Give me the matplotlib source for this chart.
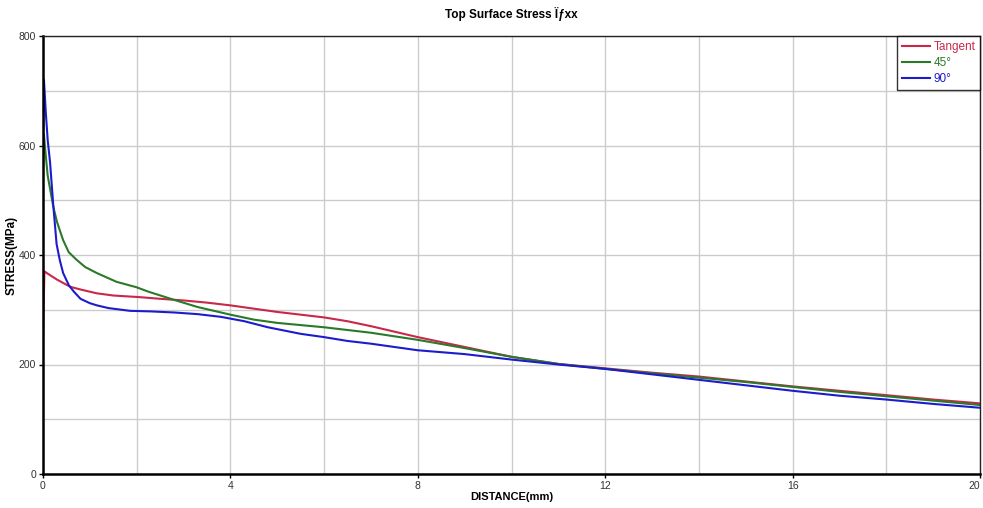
import matplotlib
matplotlib.use("Agg")
import matplotlib.pyplot as plt
from matplotlib.ticker import MultipleLocator

plt.rcParams['font.family'] = ['Liberation Sans', 'DejaVu Sans']

# --- data ---
tangent_x = [0, 0.03, 0.1, 0.3, 0.58, 0.8, 1.15, 1.5, 2.07, 2.5, 3, 3.5, 4, 4.5, 5, 5.5,
             6, 6.5, 7, 7.5, 8, 9, 10, 11, 12, 13, 14, 15, 16, 17, 18, 19, 20]
tangent_y = [245, 370, 366, 355, 342, 337, 330, 326, 323, 320, 317, 313, 308, 302, 296, 291,
             286, 279, 270, 260, 250, 232, 214, 201, 193, 185, 178, 169, 160, 152, 144, 136, 129]

deg45_x = [0, 0.02, 0.05, 0.1, 0.22, 0.3, 0.43, 0.55, 0.72, 0.9, 1.15, 1.57, 2.0, 2.25, 2.8,
           3.3, 4, 4.5, 5, 6, 7, 8, 9, 10, 11, 12, 13, 14, 15, 16, 17, 18, 19, 20]
deg45_y = [560, 620, 590, 545, 488, 460, 427, 405, 391, 378, 367, 351, 341, 333, 318,
           305, 291, 282, 276, 268, 258, 245, 230, 214, 201, 192, 184, 176, 168, 159, 150, 142, 134, 126]

deg90_x = [0, 0.02, 0.06, 0.1, 0.15, 0.22, 0.29, 0.36, 0.43, 0.55, 0.65, 0.8, 1.0, 1.15, 1.4,
           1.86, 2.3, 2.8, 3.3, 3.8, 4.3, 4.8, 5.5, 6, 6.5, 7, 7.5, 8, 9, 10, 11, 12, 13, 14,
           15, 16, 17, 18, 19, 20]
deg90_y = [590, 720, 660, 610, 570, 490, 420, 390, 367, 345, 334, 320, 312, 308, 303,
           298, 297, 295, 292, 287, 279, 268, 256, 250, 243, 238, 232, 226, 219, 209, 200, 192, 182, 172,
           162, 152, 143, 136, 128, 121]

x_ticks = [0, 4, 8, 12, 16, 20]
y_ticks = [0, 200, 400, 600, 800]

series = [
    ("Tangent", tangent_x, tangent_y, "#c8284a"),
    ("45°", deg45_x, deg45_y, "#2a7a2a"),
    ("90°", deg90_x, deg90_y, "#1c1ccc"),
]

fig = plt.figure(figsize=(9.83, 5.08), dpi=100)
ax = fig.add_axes([43 / 983, 34 / 508, 937 / 983, 438 / 508])

for name, xs, ys, col in series:
    ax.plot(xs, ys, color=col, lw=1.5, label=name)

ax.set_xlim(0, 20)
ax.set_ylim(0, 800)
ax.set_xticks(x_ticks, [str(t) for t in x_ticks])
ax.set_yticks(y_ticks, [str(t) for t in y_ticks])
ax.xaxis.set_minor_locator(MultipleLocator(2))
ax.yaxis.set_minor_locator(MultipleLocator(100))
ax.grid(True, which="both", color="#cccccc", lw=1)
ax.set_axisbelow(True)
ax.tick_params(which="major", length=3, width=1, labelsize=7.5, labelcolor="#333333", pad=2)
ax.tick_params(which="minor", length=0)
ax.get_xticklabels()[-1].set_horizontalalignment("right")

for s in ("left", "bottom"):
    ax.spines[s].set_linewidth(1.8)
    ax.spines[s].set_color("black")
for s in ("top", "right"):
    ax.spines[s].set_linewidth(1)
    ax.spines[s].set_color("#222222")

ax.set_title("Top Surface Stress Ïƒxx", fontsize=8.5, fontweight="bold", pad=13)
ax.set_xlabel("DISTANCE(mm)", fontsize=8, fontweight="bold", labelpad=1)
ax.set_ylabel("STRESS(MPa)", fontsize=8.5, fontweight="bold", labelpad=1)

leg = ax.legend(loc="upper right", fontsize=8.5, frameon=True, fancybox=False,
                borderaxespad=0, handlelength=2.4, handletextpad=0.3,
                labelspacing=0.35, borderpad=0.4)
leg.get_frame().set_edgecolor("black")
leg.get_frame().set_linewidth(1)
for txt, (_, _, _, col) in zip(leg.get_texts(), series):
    txt.set_color(col)

fig.savefig("out.png", dpi=100)
